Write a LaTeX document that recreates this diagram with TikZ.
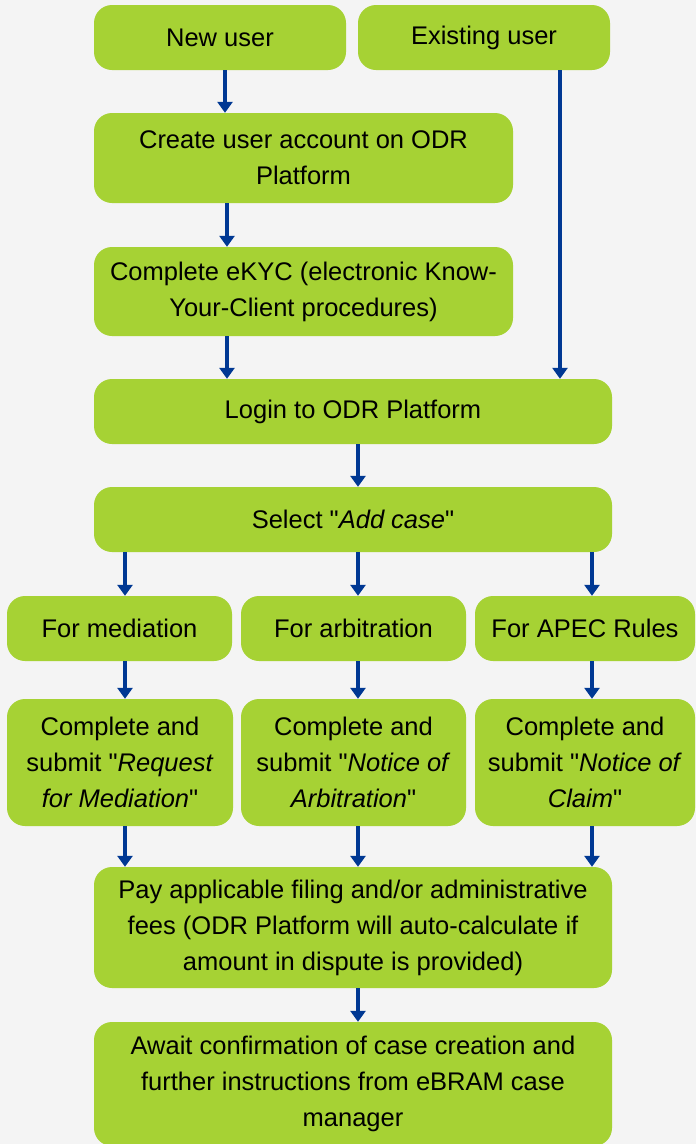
\documentclass[tikz,border=0pt]{standalone}
\usepackage{fontspec}
\setmainfont{Liberation Sans}
\usetikzlibrary{arrows.meta}

\definecolor{stepgreen}{HTML}{A6D234}
\definecolor{flowblue}{HTML}{003893}
\definecolor{pagegrey}{HTML}{F4F4F4}

\newcommand{\sq}{\textquotedbl}

\tikzset{
  stepbox/.style={fill=stepgreen, rounded corners=18pt, inner sep=0pt, align=center,
    font=\fontsize{25.5}{36}\selectfont},
  flow/.style={draw=flowblue, line width=3.5pt, -{Triangle[width=15pt,length=11pt]}},
}

\begin{document}
\begin{tikzpicture}[x=1pt, y=-1pt]
\fill[pagegrey] (0,0) rectangle (696,1144);
\useasboundingbox (0,0) rectangle (696,1144);

\node[stepbox, minimum width=252pt, minimum height=65pt] (newuser) at (220,37.5) {New user};
\node[stepbox, minimum width=252pt, minimum height=65pt] (existuser) at (484,37.5) {Existing user};
\node[stepbox, minimum width=419pt, minimum height=90pt] (createacc) at (303.5,158) {Create user account on ODR\\Platform};
\node[stepbox, minimum width=419pt, minimum height=89pt] (ekyc) at (303.5,291.5) {Complete eKYC (electronic Know-\\Your-Client procedures)};
\node[stepbox, minimum width=518pt, minimum height=65pt] (login) at (353,411.5) {Login to ODR Platform};
\node[stepbox, minimum width=518pt, minimum height=65pt] (addcase) at (353,519.5) {Select \sq\textit{Add case}\sq};

\node[stepbox, minimum width=225pt, minimum height=65pt] (formed) at (119.5,628.5) {For mediation};
\node[stepbox, minimum width=225pt, minimum height=65pt] (forarb) at (353.5,628.5) {For arbitration};
\node[stepbox, minimum width=220pt, minimum height=65pt] (forapec) at (585,628.5) {For APEC Rules};

\node[stepbox, minimum width=226pt, minimum height=127pt] (submed) at (120,762.5) {Complete and\\submit \sq\textit{Request}\\\textit{for Mediation}\sq};
\node[stepbox, minimum width=225pt, minimum height=127pt] (subarb) at (353.5,762.5) {Complete and\\submit \sq\textit{Notice of}\\\textit{Arbitration}\sq};
\node[stepbox, minimum width=220pt, minimum height=127pt] (subapec) at (585,762.5) {Complete and\\submit \sq\textit{Notice of}\\\textit{Claim}\sq};

\node[stepbox, minimum width=518pt, minimum height=121pt] (payfees) at (353,927.5) {Pay applicable filing and/or administrative\\fees (ODR Platform will auto-calculate if\\amount in dispute is provided)};
\node[stepbox, minimum width=518pt, minimum height=124pt] (await) at (353,1084) {Await confirmation of case creation and\\further instructions from eBRAM case\\manager};

\draw[flow] ([xshift=5pt]newuser.south) -- ([xshift=5pt]newuser.south |- createacc.north);
\draw[flow] ([xshift=76pt]existuser.south) -- ([xshift=76pt]existuser.south |- login.north);
\draw[flow] ([xshift=-76.5pt]createacc.south) -- ([xshift=-76.5pt]createacc.south |- ekyc.north);
\draw[flow] ([xshift=-76.5pt]ekyc.south) -- ([xshift=-76.5pt]ekyc.south |- login.north);
\draw[flow] ([xshift=5pt]login.south) -- ([xshift=5pt]login.south |- addcase.north);

\draw[flow] ([xshift=5.5pt]formed.north |- addcase.south) -- ([xshift=5.5pt]formed.north);
\draw[flow] ([xshift=4.5pt]forarb.north |- addcase.south) -- ([xshift=4.5pt]forarb.north);
\draw[flow] ([xshift=7pt]forapec.north |- addcase.south) -- ([xshift=7pt]forapec.north);

\draw[flow] ([xshift=5.5pt]formed.south) -- ([xshift=5.5pt]formed.south |- submed.north);
\draw[flow] ([xshift=4.5pt]forarb.south) -- ([xshift=4.5pt]forarb.south |- subarb.north);
\draw[flow] ([xshift=7pt]forapec.south) -- ([xshift=7pt]forapec.south |- subapec.north);

\draw[flow] ([xshift=5pt]submed.south) -- ([xshift=5pt]submed.south |- payfees.north);
\draw[flow] ([xshift=4.5pt]subarb.south) -- ([xshift=4.5pt]subarb.south |- payfees.north);
\draw[flow] ([xshift=7pt]subapec.south) -- ([xshift=7pt]subapec.south |- payfees.north);

\draw[flow] ([xshift=5pt]payfees.south) -- ([xshift=5pt]payfees.south |- await.north);
\end{tikzpicture}
\end{document}
